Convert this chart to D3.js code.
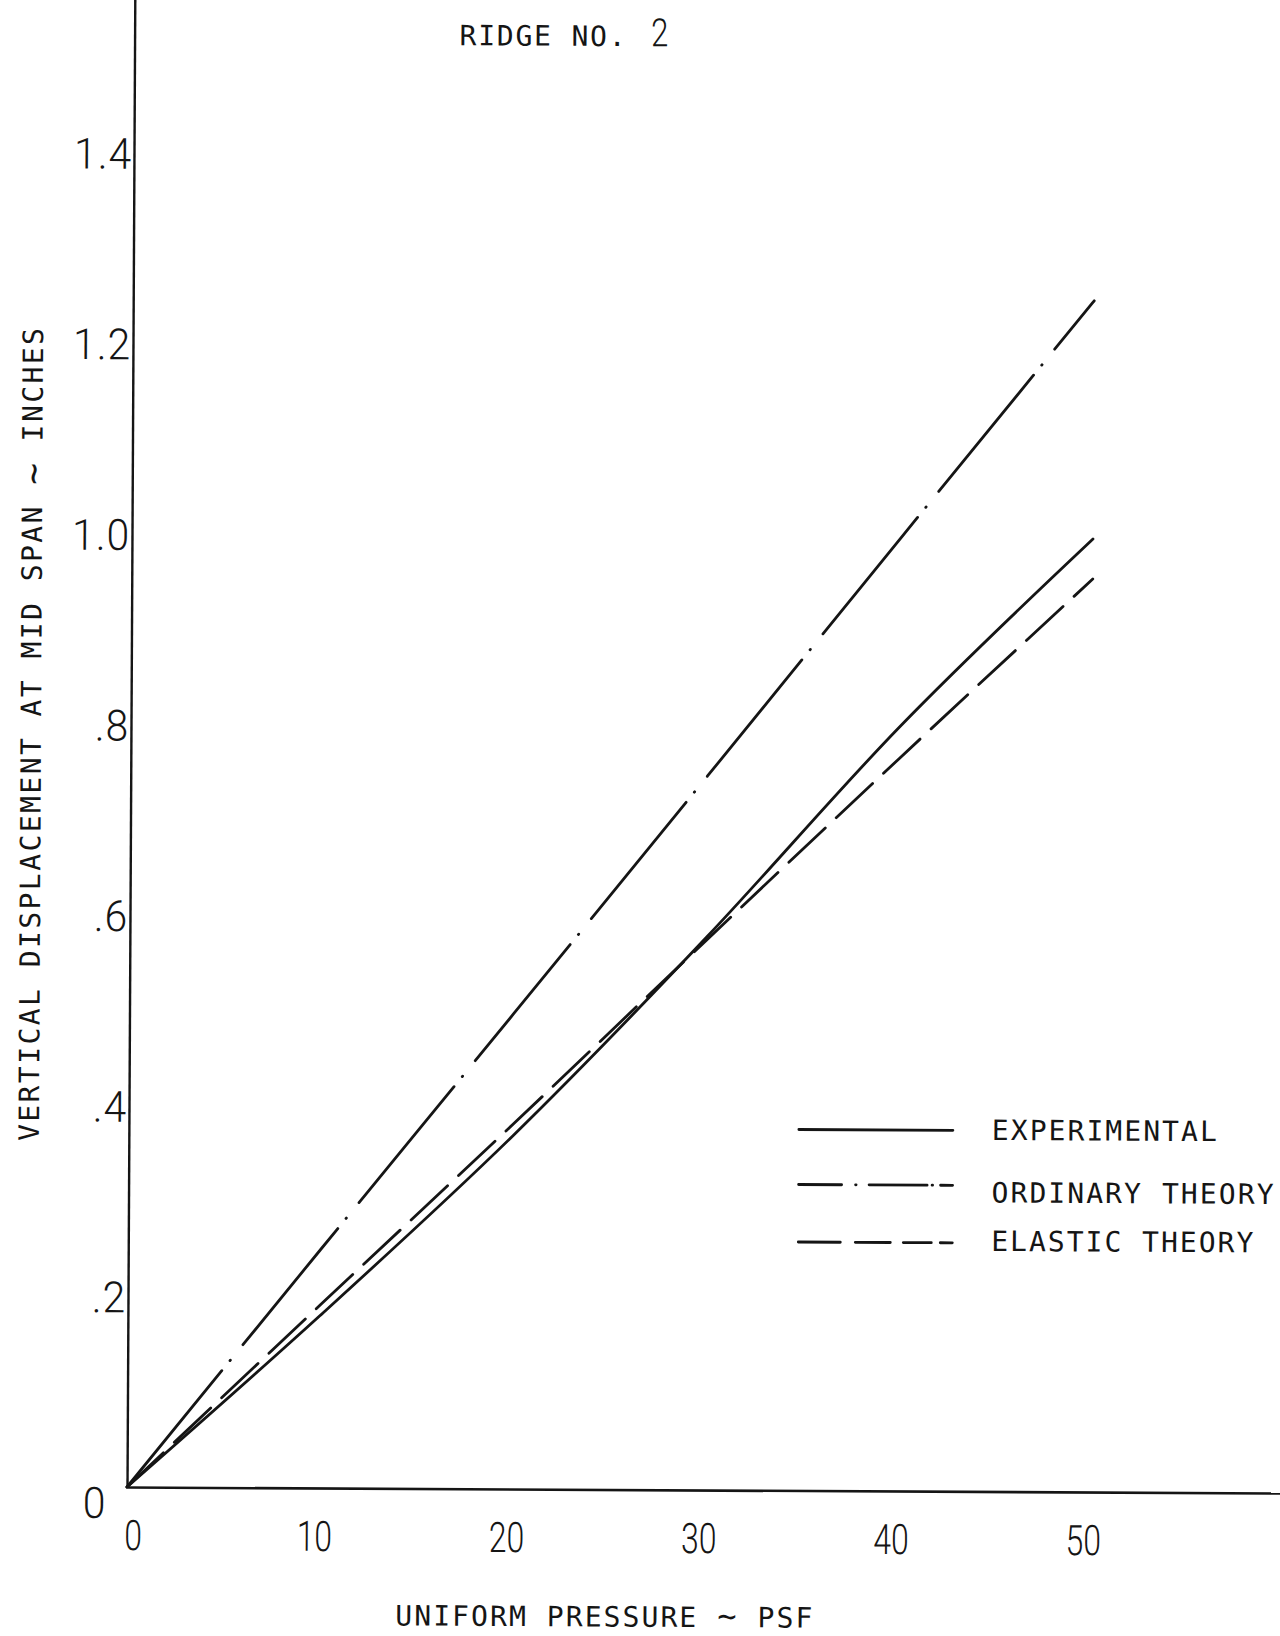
<!DOCTYPE html>
<html>
<head>
<meta charset="utf-8">
<script src="https://cdn.jsdelivr.net/npm/d3@7"></script>
<style>
  html, body { margin: 0; padding: 0; background: #ffffff; }
  svg { display: block; }
</style>
</head>
<body>
<svg id="chart" width="1280" height="1636"></svg>
<script>
// Ridge No. 2 — mid-span deflection under uniform pressure
const pressure       = [0, 10, 20, 30, 40, 50];            // psf
const experimental   = [0, 0.181, 0.371, 0.580, 0.802, 1.000]; // inches
const ordinaryTheory = [0, 0.250, 0.499, 0.749, 1.000, 1.250];
const elasticTheory  = [0, 0.192, 0.383, 0.577, 0.769, 0.958];

const xTickValues = [0, 10, 20, 30, 40, 50];
const xTickLabels = ["0", "10", "20", "30", "40", "50"];
const yTickValues = [0, 0.2, 0.4, 0.6, 0.8, 1.0, 1.2, 1.4];
const yTickLabels = ["0", ".2", ".4", ".6", ".8", "1.0", "1.2", "1.4"];

const seriesNames = ["EXPERIMENTAL", "ORDINARY THEORY", "ELASTIC THEORY"];

// ---- layout ----
const W = 1280, H = 1636;
const ox = 127, oy = 1487;          // origin on the page
const pxPerPsf = 19.22, pxPerInch = 953;
const ink = "#151515";
const digitFont = "Roboto, 'DejaVu Sans', sans-serif";
const letterFont = "'DejaVu Sans Mono', monospace";

const x = d3.scaleLinear()
  .domain([0, (W + 12 - ox) / pxPerPsf])
  .range([ox, W + 12]);
const y = d3.scaleLinear()
  .domain([0, (oy + 14) / pxPerInch])
  .range([oy, -14]);

const svg = d3.select("#chart");
svg.append("rect").attr("width", W).attr("height", H).attr("fill", "#fff");

// the sheet sits very slightly turned on the page
const g = svg.append("g").attr("transform", `rotate(0.3 ${ox} ${oy})`);

// ---- axes ----
const xAxis = d3.axisBottom(x)
  .tickValues(xTickValues)
  .tickSize(0).tickSizeOuter(0)
  .tickFormat((d, i) => xTickLabels[i]);

const gx = g.append("g").attr("transform", `translate(0,${oy})`).call(xAxis);
gx.select(".domain").attr("stroke", ink).attr("stroke-width", 2.6);
gx.selectAll(".tick text")
  .attr("y", 63).attr("dy", null)
  .attr("fill", ink)
  .attr("font-family", digitFont).attr("font-weight", 300)
  .attr("font-size", 42)
  .attr("text-anchor", "middle")
  .attr("transform", d => `translate(${d === 0 ? 6 : -5},0) scale(0.76,1)`);

const yAxis = d3.axisLeft(y)
  .tickValues(yTickValues)
  .tickSize(0).tickSizeOuter(0)
  .tickFormat((d, i) => yTickLabels[i]);

const gy = g.append("g").attr("transform", `translate(${ox},0)`).call(yAxis);
gy.select(".domain").attr("stroke", ink).attr("stroke-width", 2.4);
gy.selectAll(".tick text")
  .attr("fill", ink)
  .attr("font-family", digitFont).attr("font-weight", 300)
  .attr("font-size", 43)
  .attr("dy", "0.36em")
  .attr("x", d => d === 0 ? -34 : -2)
  .attr("y", d => d === 0 ? 15 : 0)
  .attr("text-anchor", d => d === 0 ? "middle" : "end")
  .attr("transform", "scale(0.95,1)")
  .attr("letter-spacing", 1);

// ---- curves ----
const line = d3.line()
  .x((d, i) => x(pressure[i]))
  .y(d => y(d))
  .curve(d3.curveMonotoneX);

const curves = [
  { values: experimental,   dash: null },
  { values: ordinaryTheory, dash: "150,13,0.5,20" },
  { values: elasticTheory,  dash: "50,15" }
];

g.append("g").selectAll("path")
  .data(curves)
  .join("path")
  .attr("d", d => line(d.values))
  .attr("fill", "none")
  .attr("stroke", ink)
  .attr("stroke-width", 2.8)
  .attr("stroke-linecap", "round")
  .attr("stroke-dasharray", d => d.dash);

// ---- legend ----
const legend = [
  { label: seriesNames[0], lineY: 1126, baseY: 1135.5, len: 225, dash: null },
  { label: seriesNames[1], lineY: 1181, baseY: 1198,   len: 282, dash: "43,14,0.5,13,58,5,0.5,8,12" },
  { label: seriesNames[2], lineY: 1238.5, baseY: 1246.5, len: 262, dash: "42,15,35,13,28,9,12" }
];
const lg = g.append("g");
lg.selectAll("line")
  .data(legend)
  .join("line")
  .attr("x1", 797).attr("x2", 951)
  .attr("y1", d => d.lineY).attr("y2", d => d.lineY)
  .attr("stroke", ink).attr("stroke-width", 2.8)
  .attr("stroke-linecap", "round")
  .attr("stroke-dasharray", d => d.dash);
lg.selectAll("text")
  .data(legend)
  .join("text")
  .attr("x", 990).attr("y", d => d.baseY)
  .attr("font-family", letterFont).attr("font-size", 28)
  .attr("fill", ink)
  .attr("textLength", d => d.len).attr("lengthAdjust", "spacing")
  .text(d => d.label);

// ---- titles ----
g.append("text")
  .attr("x", 452).attr("y", 43.5)
  .attr("font-family", letterFont).attr("font-size", 28)
  .attr("fill", ink)
  .attr("textLength", 166).attr("lengthAdjust", "spacing")
  .text("RIDGE NO.");
g.append("text")
  .attr("transform", "translate(652,43.5) scale(0.8,1)")
  .attr("text-anchor", "middle")
  .attr("font-family", digitFont).attr("font-weight", 300)
  .attr("font-size", 39)
  .attr("fill", ink)
  .text("2");

// axis titles: the swung dash is lettered a little larger than the words
function swungTitle(sel, before, after, size) {
  sel.append("tspan").text(before);
  sel.append("tspan").attr("font-size", size).text("~");
  sel.append("tspan").text(after);
}

const xTitle = g.append("text")
  .attr("x", 604.5).attr("y", 1624)
  .attr("text-anchor", "middle")
  .attr("font-family", letterFont).attr("font-size", 28)
  .attr("fill", ink)
  .attr("textLength", 417).attr("lengthAdjust", "spacing");
swungTitle(xTitle, "UNIFORM PRESSURE ", " PSF", 32);

const yTitle = g.append("text")
  .attr("transform", "translate(27,735) rotate(-90)")
  .attr("text-anchor", "middle")
  .attr("dominant-baseline", "central")
  .attr("font-family", letterFont).attr("font-size", 28)
  .attr("fill", ink)
  .attr("textLength", 813).attr("lengthAdjust", "spacing");
swungTitle(yTitle, "VERTICAL DISPLACEMENT AT MID SPAN ", " INCHES", 36);
</script>
</body>
</html>
